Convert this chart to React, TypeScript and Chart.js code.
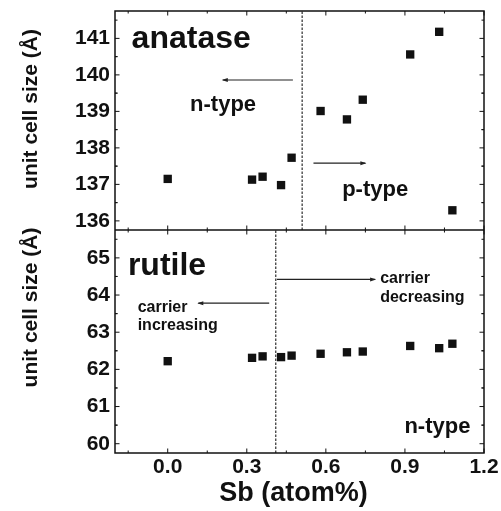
import React, { useEffect, useRef } from "react";
import { Chart, registerables } from "chart.js";

Chart.register(...registerables);

// ---- data ----
const sbContent = [0.0, 0.32, 0.36, 0.43, 0.47, 0.58, 0.68, 0.74, 0.92, 1.03, 1.08];
const anataseCell = [137.15, 137.13, 137.21, 136.98, 137.73, 139.01, 138.78, 139.32, 140.56, 141.18, 136.29];
const rutileCell = [62.22, 62.31, 62.35, 62.33, 62.37, 62.42, 62.46, 62.48, 62.63, 62.57, 62.69];
const xTickValues = [0.0, 0.3, 0.6, 0.9, 1.2];
const anataseTicks = [136, 137, 138, 139, 140, 141];
const rutileTicks = [60, 61, 62, 63, 64, 65];
const xRange = [-0.2, 1.2];
const anataseRange = [135.75, 141.75];
const rutileRange = [59.75, 65.75];
const anataseBoundary = [0.51];
const rutileBoundary = [0.41];

const FONT = "'Liberation Sans', Arial, Helvetica, sans-serif";
const INK = "#111111";

function drawText(ctx: CanvasRenderingContext2D, str: string, px: number, py: number, size: number, align: CanvasTextAlign = "left") {
  ctx.font = `bold ${size}px ${FONT}`;
  ctx.textAlign = align;
  ctx.textBaseline = "alphabetic";
  ctx.fillStyle = INK;
  ctx.fillText(str, px, py);
}

function drawArrow(ctx: CanvasRenderingContext2D, x1: number, y1: number, x2: number, y2: number) {
  ctx.strokeStyle = "#222";
  ctx.lineWidth = 1.2;
  ctx.beginPath();
  ctx.moveTo(x1, y1);
  ctx.lineTo(x2, y2);
  ctx.stroke();
  const dir = Math.sign(x2 - x1);
  ctx.fillStyle = "#222";
  ctx.beginPath();
  ctx.moveTo(x2 + dir * 1, y2);
  ctx.lineTo(x2 - dir * 5, y2 - 2);
  ctx.lineTo(x2 - dir * 5, y2 + 2);
  ctx.closePath();
  ctx.fill();
}

const decorPlugin = {
  id: "decor",
  afterDatasetsDraw(chart: any) {
    const { ctx, chartArea: ca, scales } = chart;
    const sx = scales.x;
    const ya = scales.yA;
    const yr = scales.yR;
    const mid = ya.bottom;
    ctx.save();

    // frame + divider
    ctx.strokeStyle = INK;
    ctx.lineWidth = 1.5;
    ctx.strokeRect(ca.left, ca.top, ca.right - ca.left, ca.bottom - ca.top);
    ctx.beginPath();
    ctx.moveTo(ca.left, mid);
    ctx.lineTo(ca.right, mid);
    ctx.stroke();

    // tick marks (inward)
    ctx.lineWidth = 1;
    const seg = (a: number, b: number, c: number, d: number) => {
      ctx.beginPath();
      ctx.moveTo(a, b);
      ctx.lineTo(c, d);
      ctx.stroke();
    };
    const xStep = xTickValues[1] - xTickValues[0];
    const xMinor: number[] = [];
    for (let i = 0; i < xTickValues.length; i++) xMinor.push(xTickValues[i] - xStep / 2);
    const xTicksAll = [
      ...xTickValues.map((v) => [v, 4.5]),
      ...xMinor.map((v) => [v, 2.5]),
    ];
    for (const [v, len] of xTicksAll) {
      if (v < xRange[0] || v > xRange[1]) continue;
      const p = sx.getPixelForValue(v);
      seg(p, ca.bottom, p, ca.bottom - len);
      seg(p, ca.top, p, ca.top + len);
      seg(p, mid - len, p, mid + len);
    }
    const yTickMarks = (scale: any, majors: number[], range: number[]) => {
      const step = majors[1] - majors[0];
      const all: number[][] = [];
      for (const m of majors) {
        all.push([m, 4.5]);
        all.push([m - step / 2, 2.5]);
        all.push([m + step / 2, 2.5]);
      }
      for (const [v, len] of all) {
        if (v <= range[0] || v >= range[1]) continue;
        const p = scale.getPixelForValue(v);
        seg(ca.left, p, ca.left + len, p);
        seg(ca.right, p, ca.right - len, p);
      }
    };
    yTickMarks(ya, anataseTicks, anataseRange);
    yTickMarks(yr, rutileTicks, rutileRange);

    // annotations — anatase panel
    const X = (v: number) => sx.getPixelForValue(v);
    const A = (v: number) => ya.getPixelForValue(v);
    const R = (v: number) => yr.getPixelForValue(v);
    drawText(ctx, "anatase", X(-0.137), A(140.74), 32);
    drawText(ctx, "n-type", X(0.21), A(139.01), 22, "center");
    drawText(ctx, "p-type", X(0.787), A(136.68), 22, "center");
    drawArrow(ctx, X(0.475), A(139.86), X(0.209), A(139.86));
    drawArrow(ctx, X(0.553), A(137.58), X(0.75), A(137.58));

    // annotations — rutile panel
    drawText(ctx, "rutile", X(-0.151), R(64.54), 32);
    drawText(ctx, "carrier", X(-0.114), R(63.557), 16);
    drawText(ctx, "increasing", X(-0.114), R(63.05), 16);
    drawText(ctx, "carrier", X(0.806), R(64.32), 16);
    drawText(ctx, "decreasing", X(0.806), R(63.81), 16);
    drawArrow(ctx, X(0.385), R(63.78), X(0.116), R(63.78));
    drawArrow(ctx, X(0.414), R(64.42), X(0.787), R(64.42));
    drawText(ctx, "n-type", X(0.898), R(60.29), 22);

    // axis titles
    const yTitle = (cy: number) => {
      ctx.save();
      ctx.translate(36.5, cy);
      ctx.rotate(-Math.PI / 2);
      drawText(ctx, "unit cell size (Å)", 0, 0, 21, "center");
      ctx.restore();
    };
    yTitle((ya.top + ya.bottom) / 2 - 11.5);
    yTitle((yr.top + yr.bottom) / 2 - 34);
    drawText(ctx, "Sb (atom%)", (ca.left + ca.right) / 2 - 6, 501, 27, "center");

    ctx.restore();
  },
};

const zeroPad = (s: any) => {
  s.paddingTop = 0;
  s.paddingBottom = 0;
  s.paddingLeft = 0;
  s.paddingRight = 0;
};

const tickFont = { family: FONT, size: 21, weight: "bold" as const };

export default function App() {
  const ref = useRef<HTMLCanvasElement>(null);
  useEffect(() => {
    const canvas = ref.current!;
    const pointStyle = {
      pointStyle: "rect" as const,
      pointRadius: 5.9,
      pointHoverRadius: 5.9,
      backgroundColor: INK,
      borderColor: INK,
      borderWidth: 0,
    };
    const boundaryStyle = {
      showLine: true,
      borderColor: "#1a1a1a",
      borderWidth: 1.1,
      borderDash: [2.5, 1.5],
      pointRadius: 0,
      fill: false,
    };
    const chart = new Chart(canvas, {
      type: "scatter",
      data: {
        datasets: [
          {
            label: "anatase",
            data: sbContent.map((x, i) => ({ x, y: anataseCell[i] })),
            yAxisID: "yA",
            ...pointStyle,
          },
          {
            label: "rutile",
            data: sbContent.map((x, i) => ({ x, y: rutileCell[i] })),
            yAxisID: "yR",
            ...pointStyle,
          },
          {
            type: "line",
            label: "anatase n/p boundary",
            data: [
              { x: anataseBoundary[0], y: anataseRange[0] },
              { x: anataseBoundary[0], y: anataseRange[1] },
            ],
            yAxisID: "yA",
            ...boundaryStyle,
          },
          {
            type: "line",
            label: "rutile boundary",
            data: [
              { x: rutileBoundary[0], y: rutileRange[0] },
              { x: rutileBoundary[0], y: rutileRange[1] },
            ],
            yAxisID: "yR",
            ...boundaryStyle,
          },
        ] as any,
      },
      options: {
        animation: false,
        responsive: false,
        events: [],
        layout: { padding: { left: 0, right: 17, top: 11, bottom: 0 } },
        plugins: { legend: { display: false }, tooltip: { enabled: false } },
        scales: {
          x: {
            type: "linear",
            position: "bottom",
            min: xRange[0],
            max: xRange[1],
            grid: { display: false, drawTicks: false },
            border: { display: false },
            ticks: {
              font: tickFont,
              color: INK,
              padding: 2,
              autoSkip: false,
              maxRotation: 0,
              callback: (v: any) => Number(v).toFixed(1),
            },
            afterBuildTicks: (s: any) => {
              s.ticks = xTickValues.map((value) => ({ value }));
            },
            afterFit: (s: any) => {
              s.height = 58;
              zeroPad(s);
            },
          },
          yA: {
            type: "linear",
            position: "left",
            stack: "cell",
            stackWeight: 219,
            weight: 2,
            min: anataseRange[0],
            max: anataseRange[1],
            grid: { display: false, drawTicks: false },
            border: { display: false },
            ticks: { font: tickFont, color: INK, padding: 5, autoSkip: false },
            afterBuildTicks: (s: any) => {
              s.ticks = anataseTicks.map((value) => ({ value }));
            },
            afterFit: (s: any) => {
              s.width = 115;
              zeroPad(s);
            },
          },
          yR: {
            type: "linear",
            position: "left",
            stack: "cell",
            stackWeight: 223,
            weight: 1,
            min: rutileRange[0],
            max: rutileRange[1],
            grid: { display: false, drawTicks: false },
            border: { display: false },
            ticks: { font: tickFont, color: INK, padding: 5, autoSkip: false },
            afterBuildTicks: (s: any) => {
              s.ticks = rutileTicks.map((value) => ({ value }));
            },
            afterFit: (s: any) => {
              s.width = 115;
              zeroPad(s);
            },
          },
        } as any,
      },
      plugins: [decorPlugin],
    });
    return () => chart.destroy();
  }, []);

  return (
    <div style={{ position: "absolute", left: 0, top: 0, width: 501, height: 511, background: "#fff" }}>
      <canvas ref={ref} width={501} height={511} style={{ display: "block", width: 501, height: 511 }} />
    </div>
  );
}
